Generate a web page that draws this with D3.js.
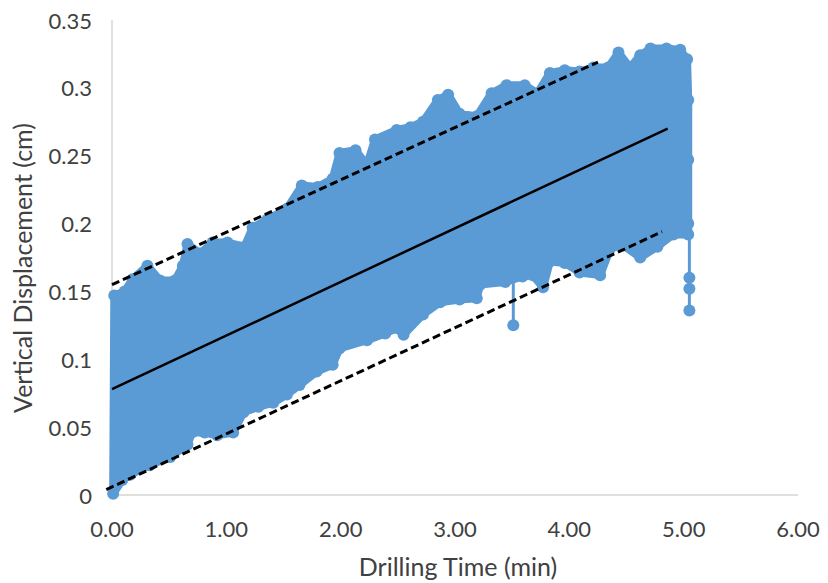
<!DOCTYPE html>
<html>
<head>
<meta charset="utf-8">
<script src="https://cdn.jsdelivr.net/npm/d3@7"></script>
<style>
  body { margin: 0; background: #fff; }
  text { font-family: Lato, "Open Sans", sans-serif; fill: #404040; }
</style>
</head>
<body>
<div id="chart"></div>
<script>
const upperTime = [0.02, 0.11, 0.18, 0.31, 0.42, 0.55, 0.62, 0.66, 0.77, 0.88, 1.01, 1.16, 1.23, 1.36, 1.53, 1.66, 1.80, 1.93, 1.99, 2.13, 2.23, 2.30, 2.49, 2.61, 2.72, 2.85, 2.94, 3.04, 3.19, 3.32, 3.45, 3.61, 3.72, 3.83, 3.96, 4.09, 4.21, 4.34, 4.43, 4.53, 4.62, 4.71, 4.85, 4.97, 5.03, 5.04, 5.04, 5.04];
const upperDisp = [0.147, 0.150, 0.159, 0.169, 0.158, 0.158, 0.169, 0.185, 0.178, 0.186, 0.186, 0.183, 0.197, 0.203, 0.211, 0.228, 0.227, 0.233, 0.252, 0.254, 0.243, 0.262, 0.269, 0.271, 0.275, 0.291, 0.295, 0.281, 0.279, 0.296, 0.302, 0.302, 0.296, 0.311, 0.313, 0.312, 0.315, 0.315, 0.326, 0.315, 0.324, 0.329, 0.329, 0.328, 0.321, 0.291, 0.247, 0.200];

// lower edge of the band
const lowerTime = [0.01, 0.09, 0.16, 0.33, 0.51, 0.66, 0.70, 0.81, 0.92, 1.06, 1.15, 1.28, 1.41, 1.53, 1.64, 1.79, 1.93, 1.99, 2.23, 2.39, 2.49, 2.55, 2.72, 2.87, 3.04, 3.19, 3.22, 3.44, 3.59, 3.68, 3.77, 3.83, 3.96, 4.09, 4.27, 4.36, 4.47, 4.62, 4.77, 4.91, 5.04];
const lowerDisp = [0.001, 0.011, 0.015, 0.022, 0.028, 0.037, 0.046, 0.046, 0.044, 0.046, 0.061, 0.065, 0.068, 0.074, 0.081, 0.091, 0.096, 0.108, 0.114, 0.119, 0.123, 0.118, 0.133, 0.142, 0.144, 0.145, 0.155, 0.157, 0.161, 0.162, 0.153, 0.172, 0.171, 0.164, 0.162, 0.182, 0.184, 0.175, 0.183, 0.192, 0.192];

// isolated readings below the band
const outlierTime = [3.51, 5.05, 5.05, 5.05];
const outlierDisp = [0.125, 0.160, 0.152, 0.136];

// fitted line and bounds (start / end)
const fitTime = [0.00, 4.86];
const fitDisp = [0.078, 0.270];
const upperBoundTime = [0.00, 4.25];
const upperBoundDisp = [0.155, 0.319];
const lowerBoundTime = [-0.05, 4.81];
const lowerBoundDisp = [0.004, 0.194];

const xTicks = [0, 1, 2, 3, 4, 5, 6];
const yTicks = [0, 0.05, 0.1, 0.15, 0.2, 0.25, 0.3, 0.35];

const width = 828, height = 583;
const blue = "#5b9bd5";

const svg = d3.select("#chart").append("svg")
    .attr("width", width)
    .attr("height", height);

const x = d3.scaleLinear().domain([0, 6]).range([112, 798]);
const y = d3.scaleLinear().domain([0, 0.35]).range([495, 20]);

// axes lines
svg.append("line")
    .attr("x1", x(0)).attr("x2", x(6))
    .attr("y1", y(0)).attr("y2", y(0))
    .attr("stroke", "#bfbfbf").attr("stroke-width", 1);
svg.append("line")
    .attr("x1", x(0)).attr("x2", x(0))
    .attr("y1", y(0)).attr("y2", y(0.35))
    .attr("stroke", "#bfbfbf").attr("stroke-width", 1);

// tick labels
svg.selectAll(".xlab")
    .data(xTicks)
    .enter()
    .append("text")
    .attr("x", d => x(d))
    .attr("y", 528)
    .attr("text-anchor", "middle")
    .attr("dominant-baseline", "central")
    .attr("font-size", "22px")
    .text(d => d.toFixed(2));

svg.selectAll(".ylab")
    .data(yTicks)
    .enter()
    .append("text")
    .attr("x", 92)
    .attr("y", d => y(d))
    .attr("text-anchor", "end")
    .attr("dominant-baseline", "central")
    .attr("font-size", "22px")
    .text(d => d3.format("~g")(d));

// axis titles
svg.append("text")
    .attr("x", 458)
    .attr("y", 566)
    .attr("text-anchor", "middle")
    .attr("dominant-baseline", "central")
    .attr("font-size", "25px")
    .text("Drilling Time (min)");

svg.append("text")
    .attr("transform", "translate(22, 268) rotate(-90)")
    .attr("text-anchor", "middle")
    .attr("dominant-baseline", "central")
    .attr("font-size", "25px")
    .text("Vertical Displacement (cm)");

// data band
const upper = upperTime.map((t, i) => [t, upperDisp[i]]);
const lower = lowerTime.map((t, i) => [t, lowerDisp[i]]);
const outliers = outlierTime.map((t, i) => [t, outlierDisp[i]]);

const line = d3.line().x(d => x(d[0])).y(d => y(d[1]));

svg.append("path")
    .attr("d", line(upper.concat(lower.slice().reverse())) + "Z")
    .attr("fill", blue)
    .attr("stroke", blue)
    .attr("stroke-width", 8)
    .attr("stroke-linejoin", "round");

// connector lines down to the outliers
svg.append("path")
    .attr("d", line([[3.51, 0.157], outliers[0]]))
    .attr("stroke", blue).attr("stroke-width", 3).attr("fill", "none");
svg.append("path")
    .attr("d", line([[5.05, 0.194], outliers[3]]))
    .attr("stroke", blue).attr("stroke-width", 3).attr("fill", "none");

svg.selectAll(".mark")
    .data(upper.concat(lower, outliers))
    .enter()
    .append("circle")
    .attr("cx", d => x(d[0]))
    .attr("cy", d => y(d[1]))
    .attr("r", 6)
    .attr("fill", blue);

// trend line and bounds
const trend = (tt, vv) => tt.map((t, i) => [t, vv[i]]);

svg.append("path")
    .attr("d", line(trend(fitTime, fitDisp)))
    .attr("stroke", "#000").attr("stroke-width", 2.5).attr("fill", "none");

[[upperBoundTime, upperBoundDisp], [lowerBoundTime, lowerBoundDisp]].forEach(b => {
    svg.append("path")
        .attr("d", line(trend(b[0], b[1])))
        .attr("stroke", "#000")
        .attr("stroke-width", 3)
        .attr("stroke-dasharray", "8,4")
        .attr("fill", "none");
});
</script>
</body>
</html>
